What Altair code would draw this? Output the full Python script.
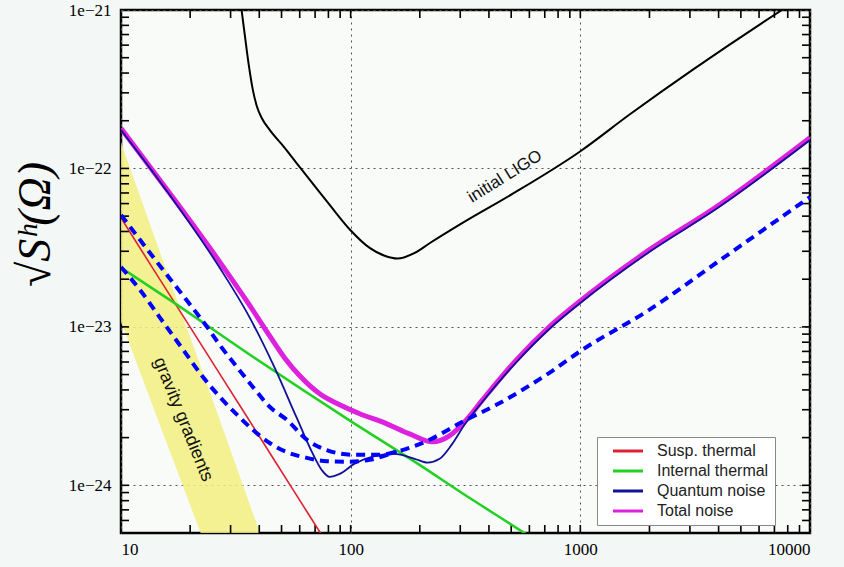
import altair as alt
import pandas as pd

# ---------------- data ----------------
f_ligo = [33, 33.5, 34.6, 36.0, 37.5, 39.0, 41.0, 44.4, 51.6, 60.0, 81.0, 99.6, 121, 140.5, 160, 190, 220.6,
          307, 506, 990, 1633, 7550, 10000]
h_ligo = [1.2e-21, 1.0e-21, 6.95e-22, 4.50e-22, 3.13e-22, 2.48e-22, 2.08e-22, 1.75e-22, 1.35e-22, 1.02e-22,
          5.89e-23, 4.09e-23, 3.15e-23, 2.81e-23, 2.70e-23, 2.93e-23, 3.37e-23, 4.53e-23, 6.90e-23, 1.27e-22,
          2.18e-22, 1.0e-21, 1.3e-21]

f_total = [10, 16.3, 26.9, 36.4, 44.4, 51.6, 60.0, 73.3, 89.6, 109.4, 140.5, 180.5, 227, 269, 319, 375, 527,
           733, 990, 1995, 3900, 10000]
h_total = [1.79e-22, 6.97e-23, 2.57e-23, 1.36e-23, 8.77e-24, 6.37e-24, 4.91e-24, 3.78e-24, 3.22e-24, 2.83e-24,
           2.48e-24, 2.11e-24, 1.88e-24, 2.05e-24, 2.59e-24, 3.46e-24, 6.19e-24, 1.0e-23, 1.44e-23, 3.06e-23,
           5.71e-23, 1.56e-22]

f_quant = [10, 16.3, 26.9, 36.4, 46.7, 58.2, 67.7, 74.8, 81.0, 89.6, 104, 127, 155, 190, 216, 244, 275, 313,
           375, 527, 733, 990, 1995, 3900, 10000]
h_quant = [1.75e-22, 6.8e-23, 2.36e-23, 1.14e-23, 5.51e-24, 2.67e-24, 1.63e-24, 1.25e-24, 1.13e-24, 1.18e-24,
           1.37e-24, 1.53e-24, 1.58e-24, 1.47e-24, 1.39e-24, 1.47e-24, 1.80e-24, 2.41e-24, 3.37e-24, 6.0e-24,
           9.7e-24, 1.40e-23, 2.97e-23, 5.54e-23, 1.51e-22]

f_susp = [10, 14, 20, 28, 40, 56, 75, 90]
h_susp = [4.87e-23, 2.25e-23, 9.96e-24, 4.61e-24, 2.04e-24, 9.42e-25, 4.83e-25, 3.18e-25]

f_int = [10, 16.3, 37.5, 99.6, 189.7, 339, 560, 700]
h_int = [2.36e-23, 1.48e-23, 6.47e-24, 2.55e-24, 1.41e-24, 8.1e-25, 5.09e-25, 4.1e-25]

f_dash1 = [10, 13.8, 19.4, 23.7, 26.9, 31.9, 37.5, 44.4, 52.7, 64.4, 78.7, 102, 133.7, 158.5, 186, 220.6, 307,
           431, 733, 1020, 1995, 3900, 10000]
h_dash1 = [5.09e-23, 2.76e-23, 1.46e-23, 1.0e-23, 7.7e-24, 5.60e-24, 4.18e-24, 3.13e-24, 2.59e-24, 1.94e-24,
           1.67e-24, 1.56e-24, 1.56e-24, 1.63e-24, 1.75e-24, 1.94e-24, 2.52e-24, 3.22e-24, 5.13e-24, 7.16e-24,
           1.28e-23, 2.53e-23, 6.6e-23]

f_dash2 = [10, 12.1, 14.8, 18.4, 22.7, 26.9, 31.9, 37.5, 44.4, 52.7, 64.4, 78.7, 99, 121, 158.5]
h_dash2 = [2.39e-23, 1.71e-23, 1.14e-23, 7.37e-24, 4.84e-24, 3.62e-24, 2.80e-24, 2.24e-24, 1.85e-24, 1.62e-24,
           1.49e-24, 1.42e-24, 1.41e-24, 1.45e-24, 1.63e-24]

f_grav = [10, 15, 20, 25, 30, 35, 40, 42]
h_grav_hi = [1.45e-22, 2.78e-23, 8.63e-24, 3.49e-24, 1.66e-24, 8.85e-25, 5.14e-25, 4.2e-25]
h_grav_lo = [1.08e-23, 2.27e-24, 7.5e-25, 3.18e-25, 1.5e-25, 8.0e-26, 4.6e-26, 3.8e-26]

series_names = ["Susp. thermal", "Internal thermal", "Quantum noise", "Total noise"]
series_colors = ["#DD2233", "#22D022", "#10109A", "#DD22DD"]

x_ticks_major = [10, 100, 1000, 10000]
y_ticks_major = [1e-24, 1e-23, 1e-22, 1e-21]
x_ticks_inner = [20, 30, 40, 50, 60, 70, 80, 90, 100, 200, 300, 400, 500, 600, 700, 800, 900, 1000,
                 2000, 3000, 4000, 5000, 6000, 7000, 8000, 9000]
y_ticks_inner = [6e-25, 7e-25, 8e-25, 9e-25, 1e-24,
                 2e-24, 3e-24, 4e-24, 5e-24, 6e-24, 7e-24, 8e-24, 9e-24, 1e-23,
                 2e-23, 3e-23, 4e-23, 5e-23, 6e-23, 7e-23, 8e-23, 9e-23, 1e-22,
                 2e-22, 3e-22, 4e-22, 5e-22, 6e-22, 7e-22, 8e-22, 9e-22]

X_DOM = [10, 10000]
Y_DOM = [5e-25, 1e-21]
W, H = 689, 523
TICK_PX = 8

# ---------------- scales / axes ----------------
xs = alt.Scale(type="log", domain=X_DOM, nice=False)
ys = alt.Scale(type="log", domain=Y_DOM, nice=False)
x_axis = alt.Axis(values=x_ticks_major, format="d", title=None, grid=True, ticks=False, domain=False,
                  labelFont="Liberation Serif", labelFontSize=17, labelColor="black", labelPadding=8,
                  gridColor="#555555", gridDash=[2, 4], gridWidth=1)
y_axis = alt.Axis(values=y_ticks_major, labelExpr="'1e\u2212' + round(-log(datum.value)/LN10)",
                  title="\u221aS\u02b0(\u03a9)", titleFont="Liberation Serif", titleFontSize=46,
                  titleFontWeight="normal", titleFontStyle="italic", titleColor="black",
                  titleX=-86, titleY=214, titleAngle=270, titleAlign="center", titleBaseline="middle",
                  grid=True, ticks=False, domain=False,
                  labelFont="Liberation Serif", labelFontSize=17, labelColor="black", labelPadding=10,
                  gridColor="#555555", gridDash=[2, 4], gridWidth=1)


def X(field="f"):
    return alt.X(f"{field}:Q", scale=xs, axis=x_axis)


def Y(field="h"):
    return alt.Y(f"{field}:Q", scale=ys, axis=y_axis)


color_enc = alt.Color("series:N", scale=alt.Scale(domain=series_names, range=series_colors),
                      sort=series_names,
                      legend=alt.Legend(title=None, orient="none", legendX=476, legendY=427,
                                        fillColor="white", strokeColor="#888888", padding=6,
                                        symbolType="M-3,0H3", symbolSize=100, symbolStrokeWidth=3,
                                        symbolOffset=17, labelOffset=21,
                                        labelFont="Liberation Sans", labelFontSize=16, labelColor="#222222",
                                        rowPadding=4))

# ---------------- inside ticks: short two-point lines, one per tick ----------------
ky = 10 ** (TICK_PX / H * 3.301)   # factor on y for TICK_PX pixels
kx = 10 ** (TICK_PX / W * 3.0)     # factor on x for TICK_PX pixels
tick_rows = []
k = 0
for t in x_ticks_inner:
    tick_rows += [{"id": k, "o": 0, "f": t, "h": Y_DOM[0]}, {"id": k, "o": 1, "f": t, "h": Y_DOM[0] * ky}]
    k += 1
    tick_rows += [{"id": k, "o": 0, "f": t, "h": Y_DOM[1]}, {"id": k, "o": 1, "f": t, "h": Y_DOM[1] / ky}]
    k += 1
for t in y_ticks_inner:
    tick_rows += [{"id": k, "o": 0, "f": X_DOM[0], "h": t}, {"id": k, "o": 1, "f": X_DOM[0] * kx, "h": t}]
    k += 1
    tick_rows += [{"id": k, "o": 0, "f": X_DOM[1], "h": t}, {"id": k, "o": 1, "f": X_DOM[1] / kx, "h": t}]
    k += 1
ticks = alt.Chart(pd.DataFrame(tick_rows)).mark_line(color="black", strokeWidth=1.6).encode(
    x=X(), y=Y(), detail="id:N", order="o:Q")

# ---------------- layers ----------------
grav = alt.Chart(pd.DataFrame({"f": f_grav, "hi": h_grav_hi, "lo": h_grav_lo})).mark_area(
    color="#F2EE80", opacity=0.85, clip=True).encode(x=X(), y=Y("hi"), y2="lo:Q")

ligo = alt.Chart(pd.DataFrame({"f": f_ligo, "h": h_ligo})).mark_line(
    color="black", strokeWidth=2, clip=True, interpolate="monotone").encode(x=X(), y=Y())


def series_layer(fv, hv, name, width):
    df = pd.DataFrame({"f": fv, "h": hv, "series": name})
    return alt.Chart(df).mark_line(strokeWidth=width, clip=True, interpolate="monotone").encode(
        x=X(), y=Y(), color=color_enc)


susp = series_layer(f_susp, h_susp, "Susp. thermal", 1.6)
internal = series_layer(f_int, h_int, "Internal thermal", 2.5)
total = series_layer(f_total, h_total, "Total noise", 5)
quant = series_layer(f_quant, h_quant, "Quantum noise", 1.8)

dash1 = alt.Chart(pd.DataFrame({"f": f_dash1, "h": h_dash1})).mark_line(
    color="#0000FF", strokeWidth=4, strokeDash=[9, 6], clip=True, interpolate="monotone").encode(x=X(), y=Y())
dash2 = alt.Chart(pd.DataFrame({"f": f_dash2, "h": h_dash2})).mark_line(
    color="#0000FF", strokeWidth=4, strokeDash=[9, 6], clip=True, interpolate="monotone").encode(x=X(), y=Y())

# annotations
ann_ligo = alt.Chart(pd.DataFrame({"f": [470], "h": [8.9e-23], "t": ["initial LIGO"]})).mark_text(
    angle=328, font="Liberation Sans", fontSize=17, color="#111111").encode(x=X(), y=Y(), text="t:N")
ann_grav = alt.Chart(pd.DataFrame({"f": [18.6], "h": [2.6e-24], "t": ["gravity gradients"]})).mark_text(
    angle=68, font="Liberation Sans", fontSize=18, color="#111111").encode(x=X(), y=Y(), text="t:N")

chart = alt.layer(
    grav, ticks, ligo, susp, internal, total, quant, dash1, dash2, ann_ligo, ann_grav
).properties(
    width=W, height=H,
    padding={"left": 121, "top": 10, "right": 34, "bottom": 34},
    autosize=alt.AutoSizeParams(type="none"),
    background="#F3F7F6",
).configure_view(
    fill="#F8FBF8", stroke="black", strokeWidth=2.5
)

chart.save("out.html", embed_options={"renderer": "svg", "actions": False})
